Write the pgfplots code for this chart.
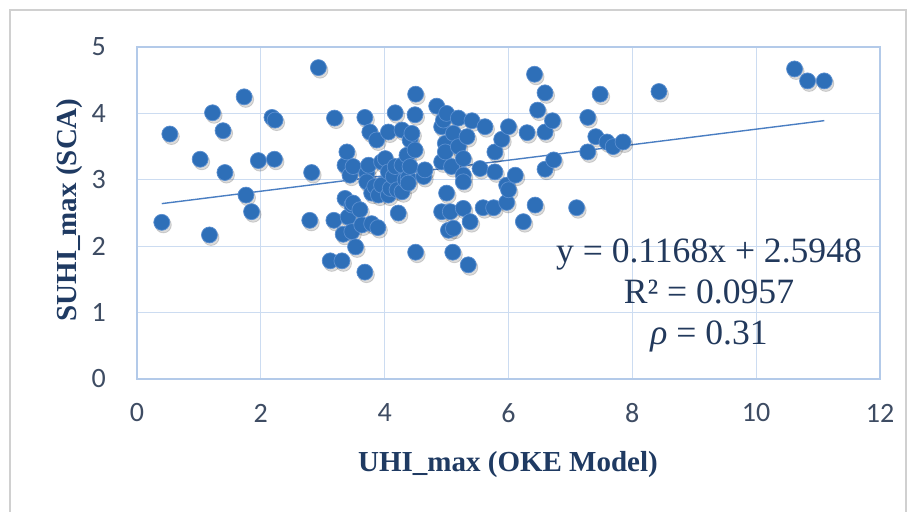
\documentclass[border=0pt]{standalone}
\usepackage{fontspec}
\setmainfont{Liberation Serif}
\newfontfamily\calibri{Carlito}
\usepackage{pgfplots}
\usepackage{pgfplotstable}
\pgfplotsset{compat=1.18}

\definecolor{dotblue}{HTML}{2E6FB8}
\definecolor{dotedge}{HTML}{5B8FD0}
\definecolor{trendblue}{HTML}{4A7EC2}
\definecolor{gridblue}{HTML}{CCDCF1}
\definecolor{axisblue}{HTML}{B3CAE9}
\definecolor{ticktext}{HTML}{3E4C63}
\definecolor{labeltext}{HTML}{1F3A62}
\definecolor{eqtext}{HTML}{22395C}
\definecolor{framegray}{HTML}{D0D0D0}

% UHI_max (x) vs SUHI_max (y)
\pgfplotstableread{
x y
0.40 2.36
0.53 3.69
1.02 3.31
1.17 2.17
1.22 4.01
1.39 3.74
1.42 3.11
1.73 4.25
1.76 2.77
1.85 2.52
1.96 3.29
2.18 3.94
2.23 3.90
2.22 3.31
2.79 2.39
2.82 3.11
2.93 4.69
3.12 1.78
3.18 2.39
3.19 3.93
3.31 1.78
3.33 2.18
3.36 3.22
3.39 3.42
3.36 2.72
3.41 2.44
3.44 3.07
3.47 2.62
3.47 2.22
3.49 3.20
3.49 2.65
3.53 1.99
3.60 2.55
3.63 2.32
3.68 3.94
3.68 1.61
3.71 3.10
3.74 3.22
3.76 3.72
3.71 2.97
3.79 2.34
3.79 2.80
3.84 2.90
3.87 3.60
3.89 2.28
3.90 2.77
3.95 2.92
3.95 3.27
4.01 3.32
4.06 3.72
4.06 3.12
4.06 2.77
4.09 2.87
4.14 3.05
4.17 3.20
4.17 4.01
4.20 2.85
4.22 2.50
4.28 3.75
4.28 3.22
4.28 2.82
4.33 3.00
4.36 3.37
4.38 3.03
4.38 2.95
4.41 3.20
4.41 3.60
4.44 3.70
4.49 3.45
4.49 3.98
4.50 4.29
4.50 1.91
4.63 3.05
4.65 3.15
4.84 4.11
4.92 3.80
4.95 3.90
4.92 3.27
4.92 2.52
4.98 3.55
4.98 3.42
5.00 4.00
5.00 2.80
5.03 2.24
5.06 2.52
5.08 3.20
5.10 1.91
5.11 3.70
5.11 2.27
5.19 3.93
5.19 3.50
5.27 3.32
5.27 3.07
5.27 2.97
5.27 2.57
5.33 3.65
5.35 1.72
5.38 2.37
5.41 3.89
5.54 3.17
5.59 2.58
5.62 3.80
5.76 2.58
5.78 3.42
5.78 3.12
5.89 3.61
5.97 2.92
5.97 2.66
6.00 3.80
6.00 2.85
6.11 3.07
6.24 2.37
6.30 3.71
6.42 4.59
6.43 2.62
6.47 4.05
6.59 4.31
6.59 3.72
6.59 3.16
6.71 3.89
6.73 3.30
7.10 2.58
7.28 3.94
7.28 3.42
7.41 3.65
7.48 4.29
7.59 3.57
7.69 3.50
7.85 3.57
8.43 4.33
10.62 4.67
10.83 4.49
11.10 4.49
}\scadata

\begin{document}
\begin{tikzpicture}
\useasboundingbox (-68.5pt,-66pt) rectangle (389.5pt,189.5pt);
\fill[white] (-68.5pt,-66pt) rectangle (389.5pt,189.5pt);
\draw[framegray, line width=1pt] (-63.5pt,-70pt) -- (-63.5pt,184.5pt) -- (384.5pt,184.5pt) -- (384.5pt,-70pt);
\begin{axis}[
  at={(0,0)}, anchor=south west,
  scale only axis, width=371.5pt, height=166pt,
  xmin=0, xmax=12, ymin=0, ymax=5,
  xtick={0,2,...,12}, ytick={0,1,...,5},
  grid=major, grid style={gridblue, line width=0.6pt},
  axis line style={axisblue, line width=0.8pt},
  tick style={draw=none},
  tick label style={font=\calibri\fontsize{14}{15}\selectfont, text=ticktext},
  /pgf/number format/assume math mode=true,
  xticklabel style={anchor=center, yshift=-17pt},
  yticklabel style={anchor=east, xshift=-12pt},
  clip=false,
]
\addplot[black, opacity=0.14, only marks, mark=*, mark size=4pt,
  mark options={fill=black, xshift=0.8pt, yshift=-1.3pt}] table {\scadata};
\addplot[dotedge, only marks, mark=*, mark size=4pt,
  mark options={fill=dotblue, line width=0.35pt}] table {\scadata};
\addplot[trendblue, line width=0.7pt] coordinates {(0.40,2.6415) (11.10,3.8913)};
\end{axis}
\node[text=labeltext, font=\bfseries\fontsize{14.5}{16}\selectfont] at (185.5pt,-43pt) {UHI\_max (OKE Model)};
\node[text=labeltext, font=\bfseries\fontsize{14.5}{16}\selectfont, rotate=90] at (-33.5pt,84.5pt) {SUHI\_max (SCA)};
\node[text=eqtext, font=\fontsize{17.8}{20.5}\selectfont, align=center] at (286pt,42pt)
  {y = 0.1168x + 2.5948\\R² = 0.0957\\\textit{ρ} = 0.31};
\end{tikzpicture}
\end{document}
